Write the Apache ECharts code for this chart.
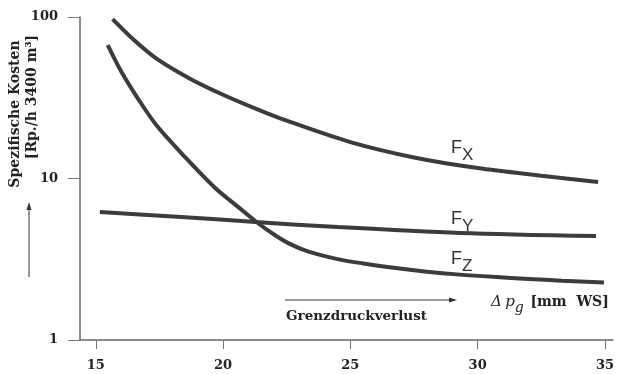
<!DOCTYPE html>
<html>
<head>
<meta charset="utf-8">
<script src="https://cdn.jsdelivr.net/npm/echarts@6/dist/echarts.min.js"></script>
<style>html,body{margin:0;padding:0;background:#fff}#c{width:617px;height:374px}</style>
</head>
<body>
<div id="c"></div>
<script>
// x ticks and y ticks
var xTicks = [15, 20, 25, 30, 35];
var yTicks = [1, 10, 100];

// Fx curve
var fxX = [15.66, 16.5, 17.4, 18.7, 20.0, 21.3, 22.5, 25.0, 27.5, 30.0, 32.5, 34.73];
var fxY = [97, 72, 55, 41.5, 33, 27, 22.8, 16.8, 13.5, 11.6, 10.4, 9.5];

// Fy curve
var fyX = [15.16, 18.2, 21.28, 24.51, 29.31, 34.65];
var fyY = [6.2, 5.8, 5.38, 5.0, 4.6, 4.4];

// Fz curve
var fzX = [15.47, 16.0, 16.7, 17.4, 18.5, 19.7, 20.6, 21.3, 22.0, 22.6, 23.3, 24.5, 25.5, 26.7, 28.0, 29.3, 30.6, 32.0, 33.3, 34.96];
var fzY = [67, 46, 30.5, 21.2, 13.6, 8.7, 6.65, 5.4, 4.5, 3.95, 3.55, 3.17, 2.98, 2.8, 2.65, 2.54, 2.46, 2.39, 2.33, 2.27];

function pairs(xs, ys) { return xs.map(function (x, i) { return [x, ys[i]]; }); }

var lineColor = '#3c3c3c';

var chart = echarts.init(document.getElementById('c'));
chart.setOption({
  animation: false,
  backgroundColor: '#ffffff',
  grid: { left: 80, right: 0, top: 17, bottom: 34 },
  xAxis: {
    type: 'value', min: 14.38, max: 35.31,
    splitLine: { show: false },
    axisLine: { lineStyle: { color: '#666', width: 1.5 } },
    axisTick: { show: true, length: 9, customValues: xTicks, lineStyle: { color: '#777', width: 1 } },
    axisLabel: { customValues: xTicks, margin: 19, fontSize: 13, color: '#222', fontFamily: 'DejaVu Serif', fontWeight: 'bold' }
  },
  yAxis: {
    type: 'log', logBase: 10, min: 1, max: 100,
    splitLine: { show: false },
    minorTick: { show: false },
    axisLine: { show: true, lineStyle: { color: '#666', width: 1.5 } },
    axisTick: { show: true, length: 12, lineStyle: { color: '#777', width: 1 } },
    axisLabel: { margin: 22, fontSize: 13, color: '#222', fontFamily: 'DejaVu Serif', fontWeight: 'bold' }
  },
  series: [
    { type: 'line', data: pairs(fxX, fxY), smooth: 0.3, showSymbol: false, lineStyle: { color: lineColor, width: 4 } },
    { type: 'line', data: pairs(fyX, fyY), smooth: 0.3, showSymbol: false, lineStyle: { color: lineColor, width: 4 } },
    { type: 'line', data: pairs(fzX, fzY), smooth: 0.3, showSymbol: false, lineStyle: { color: lineColor, width: 4 } }
  ],
  graphic: [
    { type: 'text', x: 15, y: 114, rotation: Math.PI / 2,
      style: { text: 'Spezifische Kosten', font: 'bold 14px "DejaVu Serif"', fill: '#222', align: 'center', verticalAlign: 'middle' } },
    { type: 'text', x: 32, y: 97, rotation: Math.PI / 2,
      style: { text: '[Rp./h 3400 m³]', font: 'bold 14px "DejaVu Serif"', fill: '#222', align: 'center', verticalAlign: 'middle' } },
    { type: 'line', shape: { x1: 29, y1: 277, x2: 29, y2: 208 }, style: { stroke: '#333', lineWidth: 1 } },
    { type: 'polygon', shape: { points: [[29, 202], [26.5, 210], [31.5, 210]] }, style: { fill: '#333' } },
    { type: 'line', shape: { x1: 285, y1: 300, x2: 450, y2: 300 }, style: { stroke: '#333', lineWidth: 1 } },
    { type: 'polygon', shape: { points: [[457, 300], [449, 297.5], [449, 302.5]] }, style: { fill: '#333' } },
    { type: 'text', x: 286, y: 316,
      style: { text: 'Grenzdruckverlust', font: 'bold 13.5px "DejaVu Serif"', fill: '#222', align: 'left', verticalAlign: 'middle' } },
    { type: 'text', x: 491, y: 302,
      style: {
        text: '{i|Δ} {i|p}{s|g}  {b|[mm  WS]}', align: 'left', verticalAlign: 'middle',
        rich: {
          i: { font: 'italic 15px "DejaVu Serif"', fill: '#222' },
          s: { font: 'italic 14px "DejaVu Serif"', fill: '#222', padding: [12, 0, 0, 0] },
          b: { font: 'bold 14px "DejaVu Serif"', fill: '#222' }
        }
      } },
    { type: 'text', x: 451, y: 148,
      style: { text: '{f|F}{s|X}', align: 'left', verticalAlign: 'middle',
        rich: { f: { font: '18px "Liberation Sans"', fill: '#333' }, s: { font: '17px "Liberation Sans"', fill: '#333', padding: [14, 0, 0, 0] } } } },
    { type: 'text', x: 451, y: 219,
      style: { text: '{f|F}{s|Y}', align: 'left', verticalAlign: 'middle',
        rich: { f: { font: '18px "Liberation Sans"', fill: '#333' }, s: { font: '17px "Liberation Sans"', fill: '#333', padding: [14, 0, 0, 0] } } } },
    { type: 'text', x: 451, y: 259,
      style: { text: '{f|F}{s|Z}', align: 'left', verticalAlign: 'middle',
        rich: { f: { font: '18px "Liberation Sans"', fill: '#333' }, s: { font: '17px "Liberation Sans"', fill: '#333', padding: [14, 0, 0, 0] } } } }
  ]
});
</script>
</body>
</html>
